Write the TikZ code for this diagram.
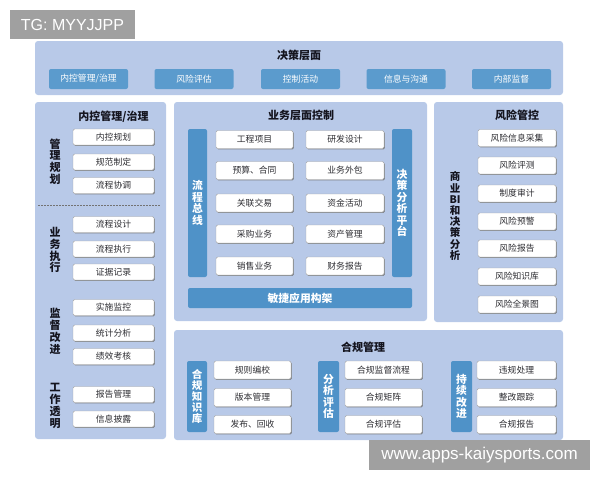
\documentclass[tikz,border=0pt]{standalone}
\usepackage{fontspec}
\setmainfont{Noto Sans CJK SC}
\newfontfamily\wmfont{Liberation Sans}
\usetikzlibrary{shadows}
\definecolor{panelbg}{RGB}{184,201,232}
\definecolor{barblue}{RGB}{79,146,200}
\definecolor{btnblue}{RGB}{91,155,205}
\definecolor{wmgray}{RGB}{160,160,160}
\definecolor{boxtext}{RGB}{45,45,50}
\definecolor{headtext}{RGB}{20,20,30}
\tikzset{
  panel/.style={fill=panelbg, rounded corners=3pt, inner sep=0pt, draw=none},
  topbtn/.style={fill=btnblue, text=white, rounded corners=2pt, inner sep=0pt,
     minimum width=79pt, minimum height=20pt, font=\fontsize{8.8}{10}\selectfont},
  wbox/.style={fill=white, draw=black!35, line width=0.4pt, rounded corners=1.5pt, inner sep=0pt,
     text=boxtext, font=\fontsize{8.8}{10}\selectfont,
     drop shadow={shadow xshift=0.9pt, shadow yshift=-0.9pt, fill=black!55, opacity=0.8}},
  bar/.style={fill=barblue, text=white, rounded corners=2pt, inner sep=0pt, align=center,
     font=\bfseries\fontsize{10.8}{11.5}\selectfont},
  heading/.style={text=headtext, font=\bfseries\fontsize{11}{13}\selectfont, inner sep=0pt},
  vlabel/.style={text=headtext, align=center, inner sep=0pt, font=\bfseries\fontsize{11}{11.8}\selectfont},
  wmark/.style={fill=wmgray, text=white, inner sep=0pt},
}
\begin{document}
\begin{tikzpicture}[x=1pt,y=-1pt]
\useasboundingbox (0,0) rectangle (600,480);
\fill[white] (0,0) rectangle (600,480);

% ---------- top panel ----------
\node[panel, minimum width=528pt, minimum height=54pt] (top) at (299,68) {};
\node[heading] (toptitle) at (299,55) {决策层面};
\node[topbtn] (t1) at (88.5,79) {内控管理/治理};
\node[topbtn] (t2) at (194,79) {风险评估};
\node[topbtn] (t3) at (300.5,79) {控制活动};
\node[topbtn] (t4) at (406,79) {信息与沟通};
\node[topbtn] (t5) at (511.5,79) {内部监督};

% ---------- left panel ----------
\node[panel, minimum width=131pt, minimum height=337pt] (left) at (100.5,270.5) {};
\node[heading] (lefttitle) at (113.5,117) {内控管理/治理};
\foreach \n/\y/\t in {l1/137/内控规划, l2/162/规范制定, l3/185.5/流程协调,
                      l4/224.5/流程设计, l5/249/流程执行, l6/272/证据记录,
                      l7/307.5/实施监控, l8/333/统计分析, l9/356.5/绩效考核,
                      l10/394.5/报告管理, l11/419/信息披露}
  \node[wbox, minimum width=81pt, minimum height=16pt] (\n) at (113.5,\y) {\t};
\coordinate (dl) at (38,205);
\coordinate (dr) at (160,205);
\draw[black!55, line width=0.6pt, dash pattern=on 1.5pt off 1.5pt] (dl) -- (dr);
\node[vlabel] (v1) at (55,161.5) {管\\理\\规\\划};
\node[vlabel] (v2) at (55,250) {业\\务\\执\\行};
\node[vlabel] (v3) at (55,331.5) {监\\督\\改\\进};
\node[vlabel] (v4) at (55,406) {工\\作\\透\\明};

% ---------- middle panel ----------
\node[panel, minimum width=253pt, minimum height=219pt] (mid) at (300.5,211.5) {};
\node[heading] (midtitle) at (301,115) {业务层面控制};
\node[bar, minimum width=19pt, minimum height=148pt] (mb1) at (197.5,203) {流\\程\\总\\线};
\node[bar, minimum width=20pt, minimum height=148pt] (mb2) at (402,203) {决\\策\\分\\析\\平\\台};
\foreach \n/\y/\a/\b in {m1/139.5/工程项目/研发设计, m2/170.5/预算、合同/业务外包,
                        m3/203/关联交易/资金活动, m4/234/采购业务/资产管理,
                        m5/266/销售业务/财务报告} {
  \node[wbox, minimum width=77pt, minimum height=18pt] (\n a) at (254.5,\y) {\a};
  \node[wbox, minimum width=78pt, minimum height=18pt] (\n b) at (345,\y) {\b};
}
\node[bar, minimum width=224pt, minimum height=20pt] (mb3) at (300,298) {敏捷应用构架};

% ---------- right panel ----------
\node[panel, minimum width=129pt, minimum height=220pt] (right) at (498.5,212) {};
\node[heading] (righttitle) at (517,115) {风险管控};
\foreach \n/\y/\t in {r1/138/风险信息采集, r2/165.5/风险评测, r3/193.5/制度审计,
                      r4/221.5/风险预警, r5/248.5/风险报告, r6/276.5/风险知识库,
                      r7/304.5/风险全景图}
  \node[wbox, minimum width=78pt, minimum height=17pt] (\n) at (517,\y) {\t};
\node[vlabel, font=\bfseries\fontsize{10.5}{11.2}\selectfont] (v5) at (455,216) {商\\业\\BI\\和\\决\\策\\分\\析};

% ---------- bottom panel ----------
\node[panel, minimum width=389pt, minimum height=110pt] (bot) at (368.5,385) {};
\node[heading] (bottitle) at (363,347) {合规管理};
\node[bar, minimum width=20pt, minimum height=71pt, font=\bfseries\fontsize{10.5}{11.2}\selectfont] (bb1) at (197,396.5) {合\\规\\知\\识\\库};
\node[bar, minimum width=21pt, minimum height=71pt] (bb2) at (328.5,396.5) {分\\析\\评\\估};
\node[bar, minimum width=21pt, minimum height=71pt] (bb3) at (461.5,396.5) {持\\续\\改\\进};
\foreach \n/\y/\a/\b/\c in {b1/370/规则编校/合规监督流程/违规处理,
                           b2/397.5/版本管理/合规矩阵/整改跟踪,
                           b3/424.5/发布、回收/合规评估/合规报告} {
  \node[wbox, minimum width=77pt, minimum height=18pt] (\n a) at (252.5,\y) {\a};
  \node[wbox, minimum width=77pt, minimum height=18pt] (\n b) at (383.5,\y) {\b};
  \node[wbox, minimum width=79pt, minimum height=18pt] (\n c) at (516.5,\y) {\c};
}

% ---------- watermarks ----------
\node[wmark, minimum width=125pt, minimum height=29pt, font=\wmfont\fontsize{16}{18}\selectfont] (tg) at (72.5,24.5) {TG: MYYJJPP};
\node[wmark, minimum width=221pt, minimum height=30pt, font=\wmfont\fontsize{17}{19}\selectfont] (www) at (479.5,455) {www.apps-kaiysports.com};
\end{tikzpicture}
\end{document}
